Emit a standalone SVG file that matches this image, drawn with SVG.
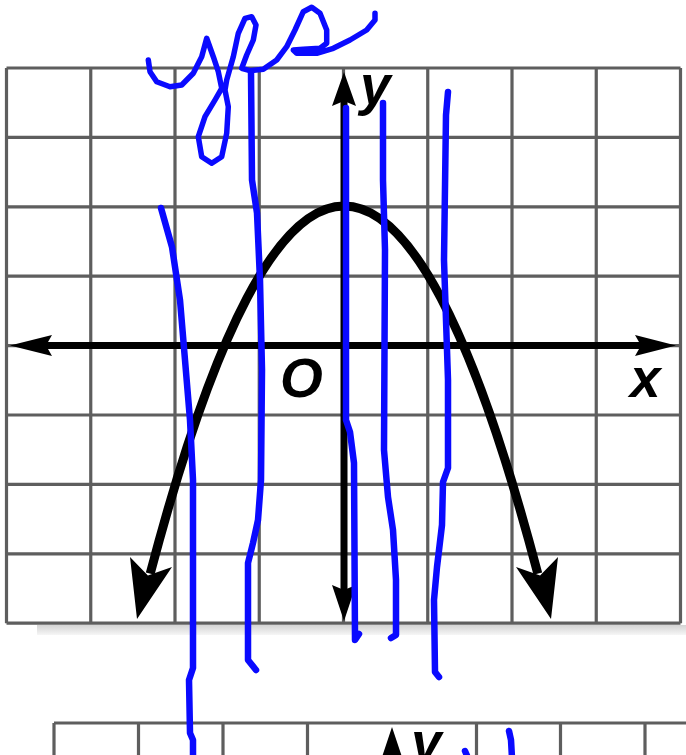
<svg xmlns="http://www.w3.org/2000/svg" width="686" height="755" viewBox="0 0 686 755">
<defs>
<linearGradient id="shadow" x1="0" y1="0" x2="0" y2="1">
<stop offset="0" stop-color="#d4d4d4"/>
<stop offset="1" stop-color="#f6f6f6"/>
</linearGradient>
<style>
.grid{stroke:#5e5e5e;stroke-width:3.2;fill:none}
.axis{stroke:#000;stroke-width:7;fill:none}
.curve{stroke:#000;stroke-width:9;fill:none}
.head{fill:#000}
.lbl{font-family:"Liberation Sans",Arial,sans-serif;font-style:italic;font-weight:bold;font-size:55px;fill:#000}
.ink{stroke:#0a0aff;stroke-width:6.5;fill:none;stroke-linecap:round;stroke-linejoin:round}
</style>
</defs>
<rect width="686" height="755" fill="#fff"/>
<g id="grid-main">
<rect x="37" y="625" width="649" height="10" fill="url(#shadow)"/>
<path class="grid" d="M6.5,68V623.2M90.75,68V623.2M175,68V623.2M259.25,68V623.2M343.5,68V623.2M427.75,68V623.2M512,68V623.2M596.25,68V623.2M680.5,68V623.2"/>
<path class="grid" d="M6.5,68H680.5M6.5,137.4H680.5M6.5,206.8H680.5M6.5,276.2H680.5M6.5,345.6H680.5M6.5,415H680.5M6.5,484.4H680.5M6.5,553.8H680.5M6.5,623.2H680.5"/>
</g>
<g id="axes">
<path class="axis" d="M40,345.5H645"/>
<polygon class="head" points="10,345.5 52,335 46,345.5 52,356"/>
<polygon class="head" points="676,345.5 635,335 641,345.5 635,356"/>
<path class="axis" d="M344,100V592"/>
<polygon class="head" points="344,72 332,106 344,101 356,106"/>
<polygon class="head" points="344,621 332,585 344,590 356,585"/>
</g>
<g id="parabola">
<path class="curve" d="M150.2,573.7Q344,-161.7 537.8,573.7"/>
<polygon class="head" points="137,619 130,557 147.9,575.4 172,567"/>
<polygon class="head" points="551,619 558,557 540.1,575.4 516,567"/>
</g>
<g id="labels">
<text class="lbl" x="360" y="104">y</text>
<text class="lbl" x="280" y="397">O</text>
<text class="lbl" x="630" y="397">x</text>
</g>
<g id="grid-second">
<path class="grid" d="M54,723H686M54,723V755M138.5,723V755M223,723V755M307.5,723V755M476.5,723V755M560.5,723V755M645,723V755"/>
<polygon class="head" points="392,727 381,760 403,760"/>
<text class="lbl" x="411" y="761">y</text>
</g>
<g id="annotations">
<path class="ink" style="stroke-width:5.5" d="M148.3,60 L150,71.7 L156.7,81.7 L170,86.7 L181.7,85 L193.3,73.3 L201.7,56.7 L206.7,38.3 L213.3,56.7 L218.3,71.7 L221.7,88.3 L215,100 L205,116.7 L198.3,136.7 L201.7,156.7 L211.7,163.3 L221.7,156.7 L226.7,133.3 L228.3,106.7 L225,90 L226.7,80 L233.3,56.7 L238.3,33.3 L245,18.3 L251.7,16.7 L256,25 L253.3,40 L246.7,55 L241.7,68.3 L250,70.7 L263.3,69.3 L276.7,60 L286.7,46.7 L295,30 L303.3,11.7 L311.7,7.3 L320,13.3 L326.7,30 L326.7,43.3 L320,48.3 L303.3,49.3 L293.3,50 L296.7,53.3 L316.7,53.3 L333.3,48.3 L350,40 L366.7,30 L375,20 L375,13.3"/>
<path class="ink" d="M161,208 L172,247 L180,300 L185,360 L190,420 L193,480 L193,668 L189,680 L190,733 L193,740 L193,758"/>
<path class="ink" d="M251,72 L252,180 L257,213 L260,280 L262,370 L261,480 L258,520 L253,543 L248,563 L248,660 L256,670"/>
<path class="ink" d="M346,108 L346,420 L350,432 L354,463 L355,640 L359,634"/>
<path class="ink" d="M383,103 L383,180 L385,250 L384,450 L388,497 L393,530 L396,580 L396,635 L391,638"/>
<path class="ink" d="M448,92 L446,115 L444,260 L448,380 L448,468 L443,482 L442,525 L437,567 L434,600 L435,672 L439,677"/>
<path class="ink" d="M509,731 L511,740 L512,758"/>
<path class="ink" d="M465,751 L468,758"/>
</g>
</svg>
